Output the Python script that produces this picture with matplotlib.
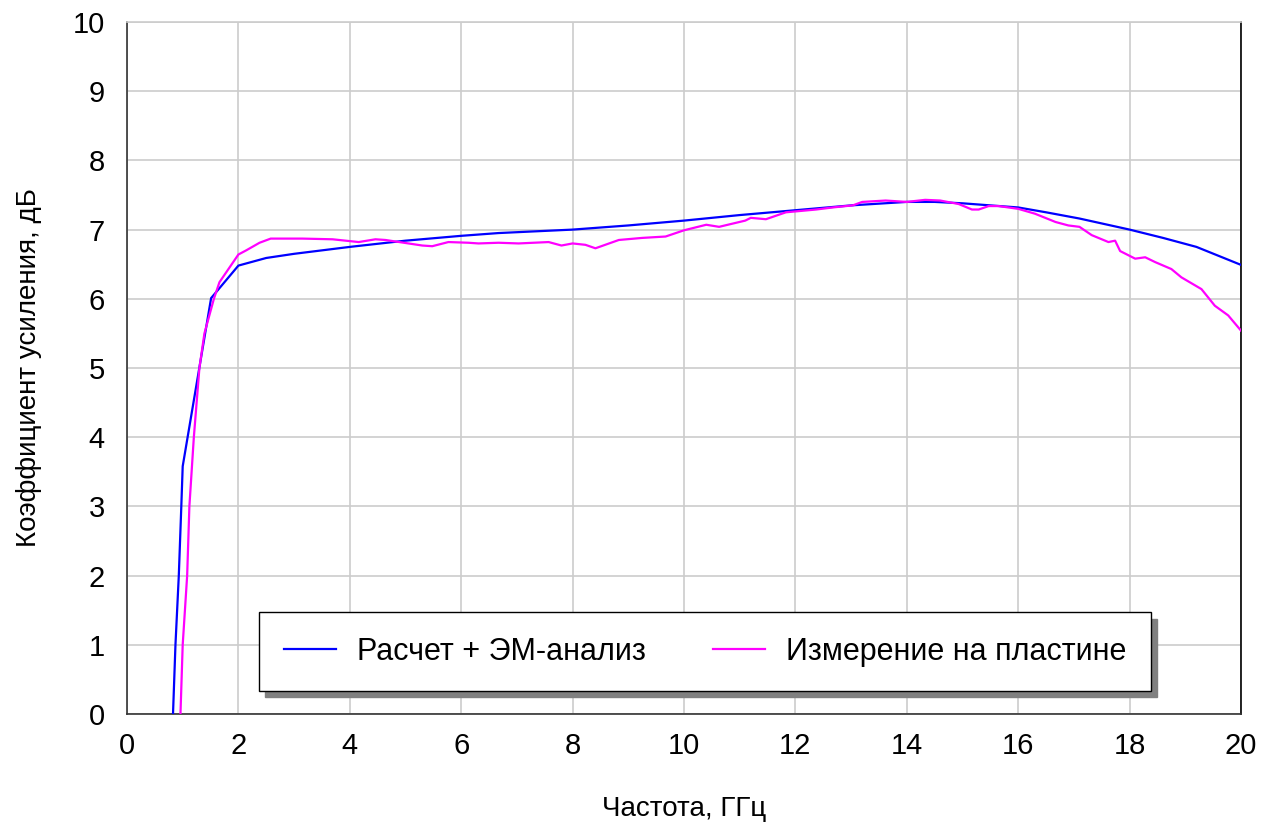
import matplotlib
matplotlib.use("Agg")
import matplotlib.pyplot as plt

plt.rcParams['font.family'] = ['Liberation Sans Narrow', 'Liberation Sans', 'DejaVu Sans']

# Simulation (Расчет + ЭМ-анализ)
sim_freq = [0.826, 0.87, 0.93, 0.975, 1.0, 1.51, 2.0, 2.5, 3.0, 4.0, 5.0, 6.0, 6.67, 8.0, 9.0,
            10.0, 11.0, 12.0, 13.0, 14.0, 14.5, 15.0, 16.0, 16.5, 17.1, 18.0, 18.6, 19.2, 20.0]
sim_gain = [0.0, 1.0, 2.0, 3.0, 3.58, 6.01, 6.48, 6.59, 6.65, 6.75, 6.84, 6.91, 6.95, 7.0, 7.06,
            7.13, 7.21, 7.28, 7.35, 7.40, 7.40, 7.38, 7.32, 7.25, 7.16, 7.0, 6.88, 6.75, 6.49]

# Measurement (Измерение на пластине)
meas_freq = [0.96, 1.0, 1.08, 1.12, 1.2, 1.3, 1.39, 1.56, 1.66, 2.0, 2.14, 2.38, 2.58, 3.15, 3.69,
             4.16, 4.46, 4.64, 5.3, 5.48, 5.77, 6.13, 6.31, 6.67, 7.03, 7.57, 7.8, 8.0, 8.23, 8.41,
             8.83, 9.25, 9.67, 10.0, 10.4, 10.63, 11.1, 11.2, 11.47, 11.83, 12.37, 12.67, 13.03,
             13.2, 13.62, 14.0, 14.33, 14.6, 14.93, 15.17, 15.29, 15.47, 15.65, 16.0, 16.3, 16.67,
             16.9, 17.1, 17.32, 17.62, 17.74, 17.83, 18.1, 18.28, 18.46, 18.75, 18.93, 19.29,
             19.53, 19.77, 20.0]
meas_gain = [0.0, 1.0, 2.0, 3.0, 4.0, 5.0, 5.5, 6.0, 6.24, 6.64, 6.70, 6.81, 6.87, 6.87, 6.86,
             6.82, 6.86, 6.85, 6.77, 6.76, 6.82, 6.81, 6.80, 6.81, 6.80, 6.82, 6.77, 6.80, 6.78, 6.73,
             6.85, 6.88, 6.90, 6.99, 7.07, 7.04, 7.13, 7.17, 7.15, 7.25, 7.29, 7.32, 7.35,
             7.40, 7.42, 7.40, 7.43, 7.42, 7.37, 7.29, 7.29, 7.34, 7.34, 7.30, 7.23, 7.11,
             7.06, 7.04, 6.92, 6.82, 6.84, 6.69, 6.58, 6.60, 6.53, 6.43, 6.31, 6.14,
             5.90, 5.76, 5.54]

x_ticks = list(range(0, 21, 2))
y_ticks = list(range(0, 11, 1))

fig = plt.figure(figsize=(12.71, 8.27), dpi=100)
ax = fig.add_axes([127/1271, 1 - 714/827, 1114/1271, 692/827])

ax.plot(sim_freq, sim_gain, color='#0000FF', lw=1.6, label='Расчет + ЭМ-анализ', zorder=3)
ax.plot(meas_freq, meas_gain, color='#FF00FF', lw=1.6, label='Измерение на пластине', zorder=3)

ax.set_xlim(0, 20)
ax.set_ylim(0, 10)
ax.set_xticks(x_ticks)
ax.set_yticks(y_ticks)
ax.grid(True, color='#cccccc', lw=1.2)
ax.set_axisbelow(True)
ax.tick_params(axis='both', length=0, labelsize=21)
ax.tick_params(axis='x', pad=13)
ax.tick_params(axis='y', pad=16)

for s in ['left', 'bottom']:
    ax.spines[s].set_color('#333333')
    ax.spines[s].set_linewidth(1.2)
ax.spines['right'].set_color('black')
ax.spines['right'].set_linewidth(1.2)
ax.spines['top'].set_color('#cccccc')
ax.spines['top'].set_linewidth(1.2)

ax.set_xlabel('Частота, ГГц', fontsize=20, labelpad=26)
ax.set_ylabel('Коэффициент усиления, дБ', fontsize=20, labelpad=22)

leg = ax.legend(loc='center', bbox_to_anchor=(0.519, 0.09), ncol=2, fontsize=22,
                fancybox=False, frameon=True, edgecolor='black', framealpha=1,
                handlelength=1.7, columnspacing=2.2, borderpad=0.8, handletextpad=0.7,
                shadow={'color': '#808080', 'alpha': 1, 'ox': 4.5, 'oy': -4.5})
leg.get_frame().set_linewidth(1.0)

fig.savefig('out.png', dpi=100, facecolor='white')
